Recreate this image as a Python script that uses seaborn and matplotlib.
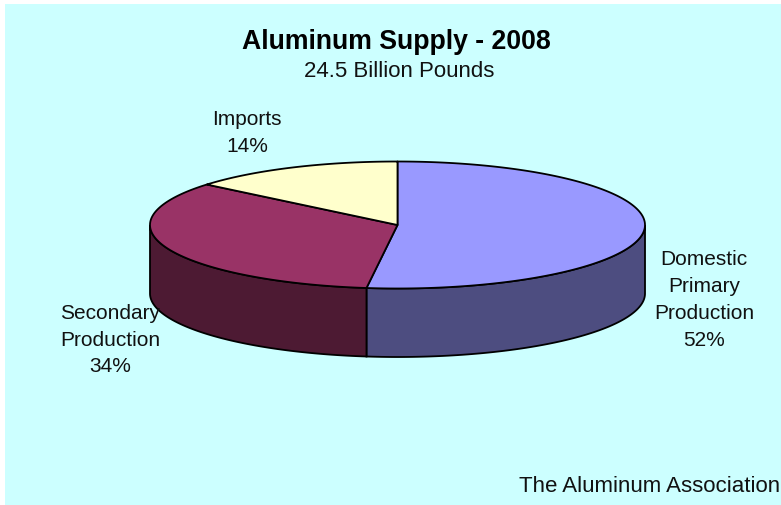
import numpy as np
import seaborn as sns
import matplotlib.pyplot as plt

# slice values, clockwise from 12 o'clock
labels = ["Domestic\nPrimary\nProduction\n52%", "Secondary\nProduction\n34%", "Imports\n14%"]
shares = [52, 34, 14]
top_colors = ["#9999ff", "#993366", "#ffffcc"]
side_colors = ["#4d4d80", "#4d1a33", "#808066"]
label_pos = [(704, 300), (110, 340), (247, 133)]

title = "Aluminum Supply - 2008"
subtitle = "24.5 Billion Pounds"
source = "The Aluminum Association"

sns.set_style("white")
plt.rcParams["font.family"] = ["Liberation Sans", "DejaVu Sans"]

cx, cy, rx, ry, depth = 397.5, 226, 247.5, 63.5, 68.5


def rim(t0, t1):
    t = np.linspace(t0, t1, 200)
    return cx + rx * np.sin(t), cy - ry * np.cos(t)


fig = plt.figure(figsize=(7.81, 5.06), dpi=100, facecolor="white")
ax = fig.add_axes([0, 0, 1, 1])
ax.set_xlim(0, 781)
ax.set_ylim(506, 0)
ax.axis("off")
ax.fill([5, 781, 781, 5], [5, 5, 506, 506], color="#ccffff", lw=0)

edges = np.cumsum([0] + shares) / sum(shares) * 2 * np.pi

# sides first so the top ellipse sits over them
for i in range(len(shares)):
    t0, t1 = edges[i], edges[i + 1]
    # only the front half of the rim is visible
    a, b = max(t0, np.pi / 2), min(t1, 3 * np.pi / 2)
    if a >= b:
        continue
    x, y = rim(a, b)
    ax.fill(
        np.r_[x, x[::-1]],
        np.r_[y, y[::-1] + depth],
        facecolor=side_colors[i],
        edgecolor="black",
        lw=1.3,
    )

for i in range(len(shares)):
    x, y = rim(edges[i], edges[i + 1])
    ax.fill(
        np.r_[cx, x],
        np.r_[cy, y],
        facecolor=top_colors[i],
        edgecolor="black",
        lw=1.3,
        joinstyle="round",
    )

for lab, (lx, ly) in zip(labels, label_pos):
    ax.text(lx, ly, lab, ha="center", va="center", fontsize=15, linespacing=1.53, color="#111111")

ax.text(396, 41.5, title, ha="center", va="center", fontsize=19.2, fontweight="bold", color="black")
ax.text(399, 71, subtitle, ha="center", va="center", fontsize=16, color="#111111")
ax.text(780, 487, source, ha="right", va="center", fontsize=16, color="#111111")

fig.savefig("out.png", dpi=100)
